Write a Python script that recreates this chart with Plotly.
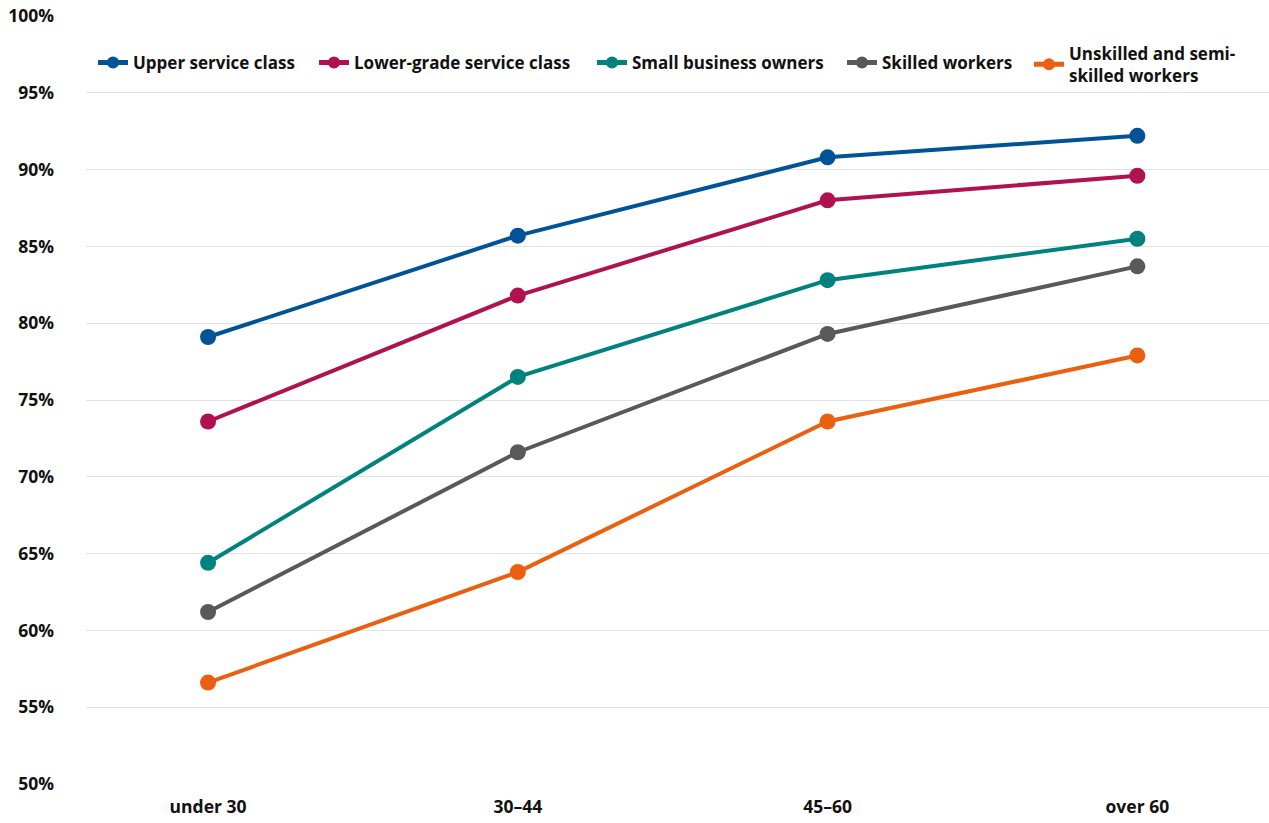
import plotly.graph_objects as go

# Age groups on the x axis
age_groups = ["under 30", "30–44", "45–60", "over 60"]

# Share (%) per social class and age group
upper_service = [79.1, 85.7, 90.8, 92.2]
lower_service = [73.6, 81.8, 88.0, 89.6]
small_business = [64.4, 76.5, 82.8, 85.5]
skilled = [61.2, 71.6, 79.3, 83.7]
unskilled = [56.6, 63.8, 73.6, 77.9]

series_names = [
    "Upper service class",
    "Lower-grade service class",
    "Small business owners",
    "Skilled workers",
    "Unskilled and semi-<br>skilled workers",
]
series_values = [upper_service, lower_service, small_business, skilled, unskilled]
series_colors = ["#005396", "#b0124f", "#00827f", "#595959", "#ea6010"]

y_ticks = [50, 55, 60, 65, 70, 75, 80, 85, 90, 95, 100]
y_tick_labels = [f"{v}%" for v in y_ticks]

FONT = "Open Sans"
TEXT = "#111111"

# Each series gets its own legend box so entries can sit on one row
legend_ids = ["legend", "legend2", "legend3", "legend4", "legend5"]
legend_left_px = [93, 314, 592, 842, 1029]
legend_y = [0.939, 0.939, 0.939, 0.939, 0.9365]
PLOT_LEFT, PLOT_WIDTH = 86, 1183

fig = go.Figure()
for name, vals, col, lid in zip(series_names, series_values, series_colors, legend_ids):
    fig.add_trace(
        go.Scatter(
            x=list(range(len(age_groups))),
            y=vals,
            name=name,
            mode="lines+markers",
            line=dict(color=col, width=4),
            marker=dict(color=col, size=16),
            legend=lid,
        )
    )

legend_layout = {}
for lid, px, ly in zip(legend_ids, legend_left_px, legend_y):
    legend_layout[lid] = dict(
        orientation="h",
        x=(px - PLOT_LEFT) / PLOT_WIDTH,
        xanchor="left",
        y=ly,
        yanchor="middle",
        font=dict(family=FONT, size=17, color=TEXT, weight="bold"),
        itemsizing="constant",
        bgcolor="rgba(0,0,0,0)",
    )

fig.update_layout(
    width=1269,
    height=823,
    margin=dict(l=PLOT_LEFT, r=0, t=16, b=39),
    paper_bgcolor="white",
    plot_bgcolor="white",
    font=dict(family=FONT, size=17, color=TEXT),
    showlegend=True,
    xaxis=dict(
        tickmode="array",
        tickvals=list(range(len(age_groups))),
        ticktext=age_groups,
        range=[-0.394, 3.425],
        showgrid=False,
        zeroline=False,
        showline=False,
        ticks="",
        tickfont=dict(family=FONT, size=17.5, color=TEXT, weight="bold"),
        ticklabelstandoff=10,
    ),
    yaxis=dict(
        range=[50, 100],
        tickmode="array",
        tickvals=y_ticks,
        ticktext=y_tick_labels,
        showgrid=True,
        gridcolor="#e3e3e3",
        gridwidth=1,
        zeroline=False,
        showline=False,
        ticks="",
        tickfont=dict(family=FONT, size=17.5, color=TEXT, weight="bold"),
        ticklabelstandoff=31,
    ),
    **legend_layout,
)

fig.write_html("out.html")
